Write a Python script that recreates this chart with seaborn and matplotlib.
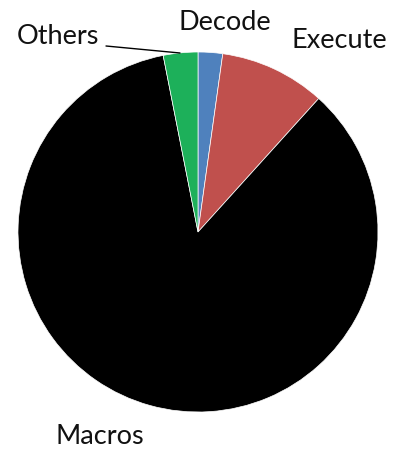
import matplotlib
matplotlib.use("Agg")
import matplotlib.pyplot as plt
import seaborn as sns

# slice data, clockwise from 12 o'clock
labels = ["Decode", "Execute", "Macros", "Others"]
shares = [2.2, 9.5, 85.2, 3.1]
colors = ["#4F81BD", "#C0504D", "#000000", "#1DB05A"]

sns.set_theme(style="white")
plt.rcParams['font.family'] = ['Lato', 'DejaVu Sans']

fig = plt.figure(figsize=(3.95, 4.5), dpi=100)
ax = fig.add_axes([0, 0, 1, 1])

# pie in pixel-like coordinates (y measured from bottom)
ax.pie(shares, colors=colors, startangle=90, counterclock=False,
       center=(198, 218), radius=180, frame=True,
       wedgeprops={"edgecolor": "white", "linewidth": 0.5})
ax.set_xlim(0, 395)
ax.set_ylim(0, 450)
ax.axis("off")

label_pos = {"Decode": (225, 428), "Execute": (339, 410),
             "Others": (58, 413), "Macros": (100, 13)}
for name in labels:
    x, y = label_pos[name]
    ax.text(x, y, name, ha="center", va="center", fontsize=19.5, color="#111111")

# leader line for Others
ax.plot([106, 180], [404, 397], color="black", lw=1)

fig.savefig("out.png", dpi=100)
